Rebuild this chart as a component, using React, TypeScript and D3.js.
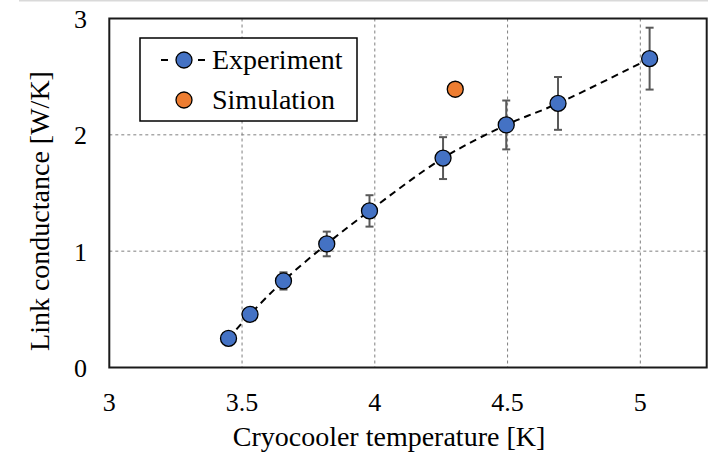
import React from "react";
import * as d3 from "d3";

// Measured link conductance versus cryocooler temperature
const expTemp = [3.449, 3.53, 3.656, 3.819, 3.98, 4.257, 4.495, 4.69, 5.035];
const expConductance = [0.25, 0.457, 0.744, 1.062, 1.346, 1.8, 2.085, 2.27, 2.655];
const expError = [0.025, 0.046, 0.074, 0.106, 0.135, 0.18, 0.21, 0.227, 0.266];

// Simulated value
const simTemp = [4.303];
const simConductance = [2.392];

const xTicks = [3, 3.5, 4, 4.5, 5];
const yTicks = [0, 1, 2, 3];
const xGrid = [3.5, 4, 4.5, 5];
const yGrid = [1, 2];

const W = 713;
const H = 456;
const left = 109.3;
const right = 706.7;
const top = 18.5;
const bottom = 367.5;

const FONT = "Liberation Serif, Times New Roman, DejaVu Serif, serif";
const BLUE = "#4472C4";
const ORANGE = "#ED7D31";

const txt = { fontFamily: FONT };

export default function App() {
  const x = d3.scaleLinear().domain([3, 5.25]).range([left, right]);
  const y = d3.scaleLinear().domain([0, 3]).range([bottom, top]);

  const pts: [number, number][] = expTemp.map((t, i) => [t, expConductance[i]]);
  const line = d3
    .line<[number, number]>()
    .x((d) => x(d[0]))
    .y((d) => y(d[1]))
    .curve(d3.curveCatmullRom.alpha(0.5));

  return (
    <svg
      width={W}
      height={H}
      style={{ position: "absolute", left: 0, top: 0, background: "#fff" }}
    >
      <rect x={0} y={0} width={W} height={H} fill="#fff" />
      <line x1={19} x2={708} y1={0.5} y2={0.5} stroke="#d9d9d9" strokeWidth={2} />

      {/* grid */}
      {xGrid.map((v) => (
        <line
          key={"gx" + v}
          x1={x(v)}
          x2={x(v)}
          y1={top}
          y2={bottom}
          stroke="#7f7f7f"
          strokeWidth={1}
          strokeDasharray="3,3"
        />
      ))}
      {yGrid.map((v) => (
        <line
          key={"gy" + v}
          x1={left}
          x2={right}
          y1={y(v)}
          y2={y(v)}
          stroke="#7f7f7f"
          strokeWidth={1}
          strokeDasharray="3,3"
        />
      ))}

      {/* plot frame */}
      <rect
        x={left}
        y={top}
        width={right - left}
        height={bottom - top}
        fill="none"
        stroke="#1a1a1a"
        strokeWidth={2}
      />

      {/* tick labels */}
      {xTicks.map((v) => (
        <text
          key={"tx" + v}
          x={x(v)}
          y={411}
          textAnchor="middle"
          fontSize={26}
          fill="#000"
          style={txt}
        >
          {v}
        </text>
      ))}
      {yTicks.map((v) => (
        <text
          key={"ty" + v}
          x={87}
          y={y(v) + 9.5}
          textAnchor="end"
          fontSize={26}
          fill="#000"
          style={txt}
        >
          {v}
        </text>
      ))}

      {/* axis titles */}
      <text x={389} y={446} textAnchor="middle" fontSize={28} fill="#000" style={txt}>
        Cryocooler temperature [K]
      </text>
      <text
        transform="translate(49, 211) rotate(-90)"
        textAnchor="middle"
        fontSize={28}
        fill="#000"
        style={txt}
      >
        Link conductance [W/K]
      </text>

      {/* trend line */}
      <path
        d={line(pts) || ""}
        fill="none"
        stroke="#000"
        strokeWidth={2}
        strokeDasharray="7,5"
      />

      {/* error bars */}
      {expTemp.map((t, i) => {
        const cx = x(t);
        const y1 = y(expConductance[i] + expError[i]);
        const y2 = y(expConductance[i] - expError[i]);
        return (
          <g key={"e" + i} stroke="#595959" strokeWidth={2}>
            <line x1={cx} x2={cx} y1={y1} y2={y2} />
            <line x1={cx - 4} x2={cx + 4} y1={y1} y2={y1} />
            <line x1={cx - 4} x2={cx + 4} y1={y2} y2={y2} />
          </g>
        );
      })}

      {/* markers */}
      {expTemp.map((t, i) => (
        <circle
          key={"m" + i}
          cx={x(t)}
          cy={y(expConductance[i])}
          r={8}
          fill={BLUE}
          stroke="#000"
          strokeWidth={1.3}
        />
      ))}
      {simTemp.map((t, i) => (
        <circle
          key={"s" + i}
          cx={x(t)}
          cy={y(simConductance[i])}
          r={8}
          fill={ORANGE}
          stroke="#000"
          strokeWidth={1.3}
        />
      ))}

      {/* legend */}
      <rect x={140} y={38} width={217} height={83} fill="#fff" stroke="#000" strokeWidth={1.5} />
      <line x1={161} x2={168} y1={60} y2={60} stroke="#000" strokeWidth={2} />
      <line x1={198} x2={205} y1={60} y2={60} stroke="#000" strokeWidth={2} />
      <circle cx={184} cy={60} r={8} fill={BLUE} stroke="#000" strokeWidth={1.3} />
      <text x={212} y={68.5} fontSize={28} fill="#000" style={txt}>
        Experiment
      </text>
      <circle cx={184} cy={100} r={8} fill={ORANGE} stroke="#000" strokeWidth={1.3} />
      <text x={212} y={108.5} fontSize={28} fill="#000" style={txt}>
        Simulation
      </text>
    </svg>
  );
}
